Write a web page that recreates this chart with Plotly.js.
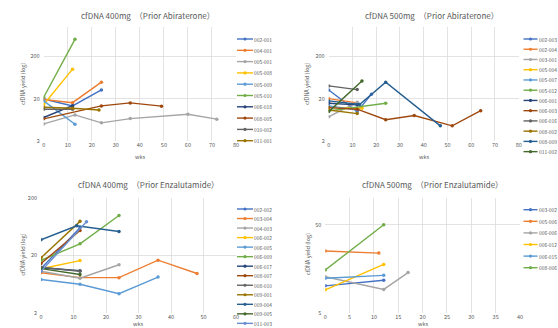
<!DOCTYPE html>
<html><head><meta charset="utf-8">
<script src="https://cdn.plot.ly/plotly-3.0.1.min.js"></script>
<style>html,body{margin:0;padding:0;background:#fff}#chart{width:558px;height:328px}</style>
</head><body><div id="chart"></div>
<script>
// ---------- DATA ----------
const titles = ["cfDNA 400mg　（Prior Abiraterone）", "cfDNA 500mg　（Prior Abiraterone）",
                "cfDNA 400mg　（Prior Enzalutamide）", "cfDNA 500mg　（Prior Enzalutamide）"];
const yTitle = "cfDNA yield (log)";
const xTitle = "wks";

const p1Names = ["002-001","004-001","005-001","005-008","005-009","005-010","006-018","008-005","010-002","011-001"];
const p1Weeks = [[0,12,24],[0,12,24],[0,13,24,36,60,72],[0,12],[0,13],[0,13],[0,12],[0,24,36,49],[0,12],[0,12,23]];
const p1Values = [[19.5,13.4,32],[19,16,49],[5,8.2,5.3,6.7,8.5,6.5],[14.5,100],[17.6,4.9],[21.5,510],[7.1,13.6],[6.6,13.4,15.8,13.2],[11.2,11.2],[12.4,11.8,10.7]];

const p2Names = ["002-003","002-004","003-001","005-004","005-007","005-012","006-001","006-003","006-016","008-002","008-009","011-002"];
const p2Weeks = [[0,12,18],[0,12],[0,12],[0,14],[0,12],[0,24],[0,12],[0,12,24,36,52,64],[0,12],[0,12],[0,13,24,47],[0,14]];
const p2Values = [[32,9.8,25.5],[20,15.8],[7.4,16.4],[12.4,11.8],[13.4,10.7],[10.2,15.5],[15.5,14.2],[12.2,11.2,6.3,7.9,4.5,10.3],[40,32.7],[10.7,8.8],[17.6,14.5,49,4.5],[9.8,52]];

const p3Names = ["002-002","003-004","004-003","006-002","006-005","006-009","006-017","008-007","008-010","009-001","009-004","009-005","011-003"];
const p3Weeks = [[0,12],[0,12,24,36,48],[0,12,24],[0,12],[0,12,24,36],[0,12,24],[0,12],[0,12],[0,12],[0,12],[0,11,24],[0,12],[0,14]];
const p3Values = [[11.8,61],[10,8.2,8.2,16.6,9.7],[10.6,8,13.8],[11.7,16.3],[7.6,6.3,4.3,8.4],[16.5,32,100],[12.2,10.8],[14.5,54.7],[12.5,10.6],[18.2,79],[37.6,66,52.6],[11.8,9.3],[10.6,78]];

const p4Names = ["003-002","005-006","006-006","006-012","006-015","008-006"];
const p4Weeks = [[0,12],[0,11],[0,12,17],[0,12],[0,12],[0,12]];
const p4Values = [[10.1,11.7],[25.2,23.8],[12.8,9.2,14.3],[9.1,17.7],[12.3,13.3],[15.3,50]];

const xTicks12 = [0,10,20,30,40,50,60,70,80];
const xTicks3 = [0,10,20,30,40,50,60];
const xTicks4 = [0,5,10,15,20,25,30,35,40];
const yTicks123 = [2,20,200];
const yTicks4 = [5,50];

// ---------- STYLE ----------
const palette = ["#4472C4","#ED7D31","#A5A5A5","#FFC000","#5B9BD5","#70AD47","#264478","#9E480E","#636363","#997300","#255E91","#43682B","#698ED0"];
const W = 558, H = 328;
const X = px => px / W, Y = py => 1 - py / H;
const FONT = "Noto Sans CJK JP, Noto Sans, sans-serif";
const TXT = "#595959";

const panels = [
  {names:p1Names, weeks:p1Weeks, vals:p1Values, xd:[43.7,236], yd:[27,140.7], xr:[0,80], xt:xTicks12, yr:[Math.log10(2),3], yt:yTicks123,
   title:[148,15], ylab:[23,84], xlab:[140,157], leg:{x:237,len:16,y0:39,dy:11.3}},
  {names:p2Names, weeks:p2Weeks, vals:p2Values, xd:[328.7,518.7], yd:[27,140.7], xr:[0,80], xt:xTicks12, yr:[Math.log10(2),3], yt:yTicks123,
   title:[432,15], ylab:[307,84], xlab:[424,157], leg:{x:523.5,len:14,y0:39,dy:10.24}},
  {names:p3Names, weeks:p3Weeks, vals:p3Values, xd:[41,236], yd:[198.3,312.7], xr:[0,60], xt:xTicks3, yr:[Math.log10(2),Math.log10(200)], yt:yTicks123,
   title:[148,184.7], ylab:[22.7,254], xlab:[138,324], leg:{x:237,len:16,y0:209,dy:9.53}},
  {names:p4Names, weeks:p4Weeks, vals:p4Values, xd:[325.3,520], yd:[198.3,312.7], xr:[0,40], xt:xTicks4, yr:[Math.log10(5),2], yt:yTicks4,
   title:[432,184.7], ylab:[308.3,254], xlab:[423,324], leg:{x:523.5,len:14,y0:209.7,dy:11.6}}
];

const traces = [], shapes = [], annotations = [];
const layout = {
  width:W, height:H, margin:{l:0,r:0,t:0,b:0}, paper_bgcolor:"#fff", plot_bgcolor:"#fff",
  showlegend:false, font:{family:FONT, color:TXT, size:5.5}
};

panels.forEach((p, k) => {
  const n = k + 1;
  const xa = n === 1 ? "x" : "x" + n, ya = n === 1 ? "y" : "y" + n;
  const xKey = n === 1 ? "xaxis" : "xaxis" + n, yKey = n === 1 ? "yaxis" : "yaxis" + n;
  layout[xKey] = {domain:[X(p.xd[0]), X(p.xd[1])], anchor:ya, range:p.xr, tickvals:p.xt, ticktext:p.xt.map(String),
    showgrid:true, gridcolor:"#D9D9D9", gridwidth:0.75, zeroline:false, showline:false, ticks:"",
    tickfont:{size:5.5, color:TXT, family:FONT}, fixedrange:true};
  layout[yKey] = {domain:[Y(p.yd[1]), Y(p.yd[0])], anchor:xa, type:"log", range:p.yr, tickvals:p.yt, ticktext:p.yt.map(String),
    showgrid:true, gridcolor:"#D9D9D9", gridwidth:0.75, zeroline:false, showline:false, ticks:"", ticklabelstandoff:3,
    tickfont:{size:5.5, color:TXT, family:FONT}, fixedrange:true};

  p.names.forEach((nm, i) => {
    const c = palette[i % palette.length];
    traces.push({type:"scatter", mode:"lines+markers", name:nm, x:p.weeks[i], y:p.vals[i], xaxis:xa, yaxis:ya,
      line:{color:c, width:1.4}, marker:{color:c, size:3.5, symbol:"circle"}, hoverinfo:"skip"});
    // legend entry
    const ly = p.leg.y0 + i * p.leg.dy;
    shapes.push({type:"line", xref:"paper", yref:"paper", x0:X(p.leg.x), x1:X(p.leg.x + p.leg.len), y0:Y(ly), y1:Y(ly),
      line:{color:c, width:1.4}});
    shapes.push({type:"circle", xref:"paper", yref:"paper", xsizemode:"pixel", ysizemode:"pixel",
      xanchor:X(p.leg.x + p.leg.len / 2), yanchor:Y(ly), x0:-1.6, x1:1.6, y0:-1.6, y1:1.6, fillcolor:c, line:{width:0}});
    annotations.push({xref:"paper", yref:"paper", x:X(p.leg.x + p.leg.len), y:Y(ly), text:nm, showarrow:false,
      xanchor:"left", yanchor:"middle", borderpad:0, font:{size:4.9, color:TXT, family:FONT}});
  });

  annotations.push({xref:"paper", yref:"paper", x:X(p.title[0]), y:Y(p.title[1]), text:titles[k], showarrow:false,
    xanchor:"center", yanchor:"middle", font:{size:8, color:TXT, family:FONT}});
  annotations.push({xref:"paper", yref:"paper", x:X(p.ylab[0]), y:Y(p.ylab[1]), text:yTitle, showarrow:false, textangle:-90,
    xanchor:"center", yanchor:"middle", font:{size:5.5, color:TXT, family:FONT}});
  annotations.push({xref:"paper", yref:"paper", x:X(p.xlab[0]), y:Y(p.xlab[1]), text:xTitle, showarrow:false,
    xanchor:"center", yanchor:"middle", borderpad:0, font:{size:5.5, color:TXT, family:FONT}});
});

layout.shapes = shapes;
layout.annotations = annotations;
Plotly.newPlot("chart", traces, layout, {staticPlot:true, displayModeBar:false});
</script></body></html>
